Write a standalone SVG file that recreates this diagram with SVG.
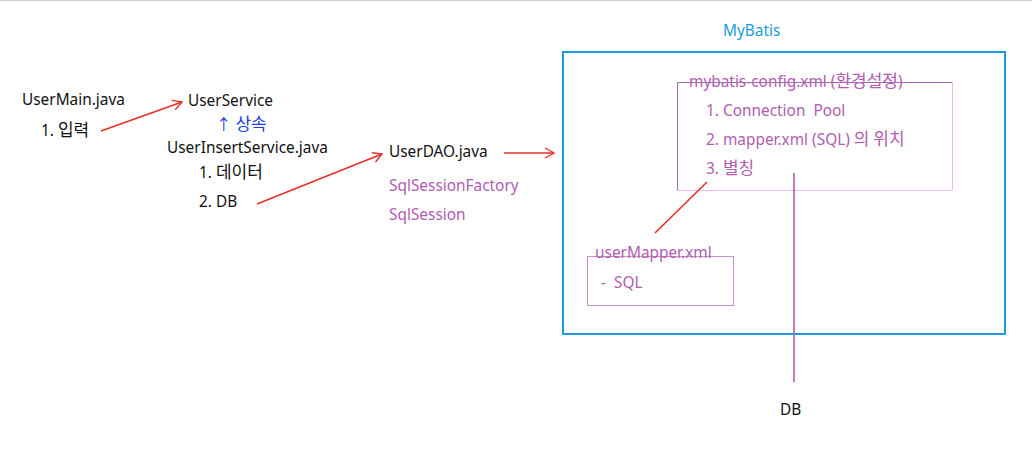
<svg xmlns="http://www.w3.org/2000/svg" width="1032" height="465" viewBox="0 0 1032 465">
<style>
text{font-family:"Noto Sans","Noto Sans CJK KR",sans-serif;font-size:15.4px}
.ko{font-family:"Noto Sans CJK KR",sans-serif;font-size:17px}
.k{fill:#111}
.p{fill:#b05cb0}
.b{fill:#1a9be0}
.bl{fill:#1a3fe0}
.red{stroke:#e8302a;stroke-width:1.6;fill:none}
</style>
<defs>
<marker id="ah" markerWidth="12" markerHeight="12" refX="10" refY="6" orient="auto" markerUnits="userSpaceOnUse">
<path d="M1,1 L10,6 L1,11" fill="none" stroke="#e8302a" stroke-width="1.4"/>
</marker>
</defs>
<rect width="1032" height="465" fill="#fff"/>
<line x1="0" y1="0.5" x2="1032" y2="0.5" stroke="#c8ccd8" stroke-width="1"/>
<g id="userMain"><text class="k" x="22" y="105">UserMain.java</text><text class="k" x="41" y="136">1. <tspan class="ko">입력</tspan></text></g>
<g id="userService"><text class="k" x="188" y="106">UserService</text><text class="bl" x="216" y="130">↑ <tspan class="ko">상속</tspan></text></g>
<g id="userInsertService"><text class="k" x="167" y="153">UserInsertService.java</text><text class="k" x="199" y="178">1. <tspan class="ko">데이터</tspan></text><text class="k" x="199" y="207">2. DB</text></g>
<g id="userDAO"><text class="k" x="389" y="157">UserDAO.java</text><text class="p" x="389" y="191">SqlSessionFactory</text><text class="p" x="389" y="220">SqlSession</text></g>
<g id="mybatis"><text class="b" x="723" y="36">MyBatis</text><rect x="563" y="52" width="442" height="282" fill="none" stroke="#1a9be0" stroke-width="2"/></g>
<g id="config">
<text class="p" x="689" y="87">mybatis-config.xml (<tspan class="ko">환경설정</tspan>)</text>
<path d="M677.5,190 V82.5 H952" fill="none" stroke="#a868b8" stroke-width="1"/>
<path d="M952.5,82 V190.5 H677" fill="none" stroke="#eab8ee" stroke-width="1"/>
<text class="p" x="706" y="116" xml:space="preserve">1. Connection  Pool</text>
<text class="p" x="706" y="145">2. mapper.xml (SQL) <tspan class="ko">의 위치</tspan></text>
<text class="p" x="706" y="174">3. <tspan class="ko">별칭</tspan></text>
</g>
<g id="userMapper">
<rect x="587.5" y="256.5" width="146" height="49" fill="none" stroke="#c890cc" stroke-width="1"/>
<text class="p" x="595" y="258">userMapper.xml</text>
<text class="p" x="601" y="288" xml:space="preserve">-  SQL</text>
</g>
<g id="db"><text class="k" x="780" y="415">DB</text></g>
<g id="connectors">
<path class="red" d="M101,131 L182,102" marker-end="url(#ah)"/>
<path class="red" d="M257,204 L382,154" marker-end="url(#ah)"/>
<path class="red" d="M504,153 L554,153" marker-end="url(#ah)"/>
<path class="red" d="M707,182 L655,233"/>
<line x1="794" y1="173" x2="794" y2="382" stroke="#b05cb0" stroke-width="1.6"/>
</g>
</svg>
